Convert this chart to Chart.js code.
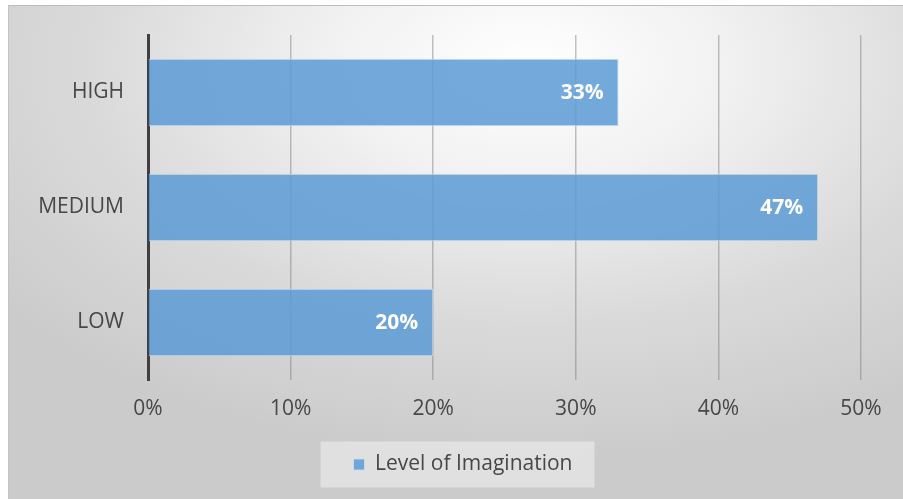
<!DOCTYPE html>
<html>
<head>
<meta charset="utf-8">
<script src="https://cdn.jsdelivr.net/npm/chart.js@4/dist/chart.umd.min.js"></script>
<style>
    html, body { margin: 0; padding: 0; background: #ffffff; }
    #wrap {
        position: absolute;
        left: 8px;
        top: 5px;
        width: 895px;
        height: 494px;
        border-top: 1px solid #bdbdbd;
        border-left: 1px solid #c4c4c4;
        background: radial-gradient(ellipse 75% 80% at 58% 12%, #ffffff 0%, #f1f1f1 30%, #dadada 65%, #cbcbcb 100%);
    }
    canvas { display: block; }
</style>
</head>
<body>
<div id="wrap"><canvas id="chart" width="894" height="493"></canvas></div>
<script>
    const categories = ['HIGH', 'MEDIUM', 'LOW'];
    const imagination = [33, 47, 20];
    const xTicks = [0, 10, 20, 30, 40, 50];
    const seriesName = 'Level of Imagination';

    const font = '"Open Sans", "Noto Sans", sans-serif';
    const textGray = '#474747';

    // white value labels at the inside end of each bar
    const barLabels = {
        id: 'barLabels',
        afterDatasetsDraw(chart) {
            const ctx = chart.ctx;
            const meta = chart.getDatasetMeta(0);
            ctx.save();
            ctx.font = 'bold 21px ' + font;
            ctx.fillStyle = '#ffffff';
            ctx.textAlign = 'right';
            ctx.textBaseline = 'middle';
            meta.data.forEach((bar, i) => {
                ctx.fillText(chart.data.datasets[0].data[i] + '%', bar.x - 15, bar.y + 1);
            });
            ctx.restore();
        }
    };

    // light panel behind the legend, nudged right like the original
    const legendPanel = {
        id: 'legendPanel',
        afterLayout(chart) {
            chart.legend.left += 28;
            chart.legend.right += 28;
        },
        beforeDraw(chart) {
            const hb = chart.legend.legendHitBoxes[0];
            if (!hb) return;
            const cy = hb.top + hb.height / 2;
            const ctx = chart.ctx;
            ctx.save();
            ctx.fillStyle = 'rgba(242,242,242,0.55)';
            ctx.fillRect(hb.left - 33, cy - 23, hb.width + 33 + 22, 46);
            ctx.restore();
        }
    };

    new Chart(document.getElementById('chart').getContext('2d'), {
        type: 'bar',
        data: {
            labels: categories,
            datasets: [{
                label: seriesName,
                data: imagination,
                backgroundColor: 'rgba(91,155,213,0.85)',
                borderColor: 'rgba(200,222,242,0.9)',
                borderWidth: 1,
                barPercentage: 0.585,
                categoryPercentage: 1
            }]
        },
        options: {
            indexAxis: 'y',
            responsive: false,
            animation: false,
            layout: { padding: { top: 29, right: 42, left: 0, bottom: 14 } },
            plugins: {
                tooltip: { enabled: false },
                legend: {
                    position: 'bottom',
                    labels: {
                        font: { family: font, size: 21 },
                        color: textGray,
                        boxWidth: 11,
                        boxHeight: 11,
                        padding: 13
                    }
                }
            },
            scales: {
                x: {
                    min: 0,
                    max: 50,
                    afterBuildTicks(scale) {
                        scale.ticks = xTicks.map(v => ({ value: v }));
                    },
                    afterFit(scale) { scale.height = 61; },
                    ticks: {
                        callback: v => v + '%',
                        font: { family: font, size: 21 },
                        color: textGray,
                        padding: 16
                    },
                    grid: {
                        color: 'rgba(120,120,120,0.45)',
                        lineWidth: 1.5,
                        drawTicks: false
                    },
                    border: { display: false }
                },
                y: {
                    afterFit(scale) {
                        scale.width = 139;
                        scale.paddingTop = 0;
                        scale.paddingBottom = 0;
                    },
                    ticks: {
                        font: { family: font, size: 21 },
                        color: textGray,
                        padding: 24
                    },
                    grid: { display: false, drawTicks: false },
                    border: { display: true, color: '#404040', width: 3 }
                }
            }
        },
        plugins: [barLabels, legendPanel]
    });
</script>
</body>
</html>
